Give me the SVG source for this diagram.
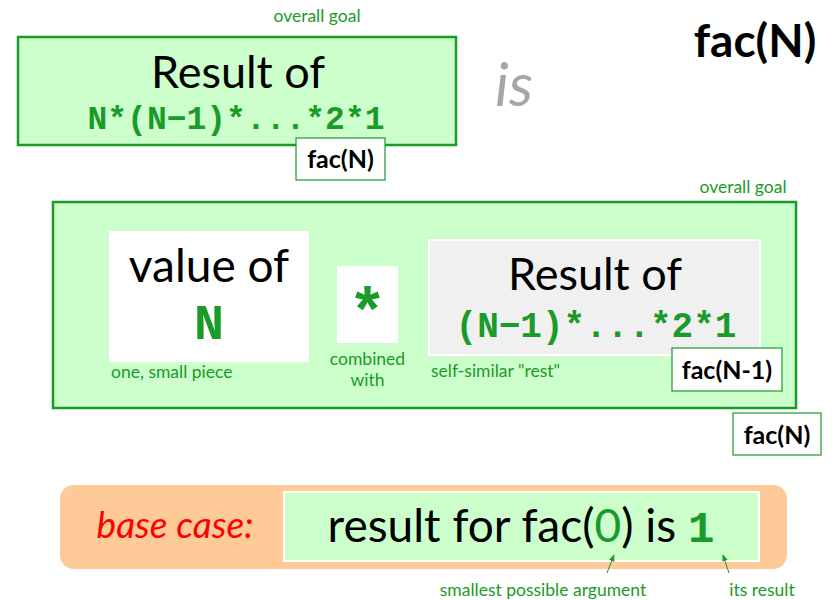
<svg xmlns="http://www.w3.org/2000/svg" width="834" height="600" viewBox="0 0 834 600">
  <style>
    .sans { font-family: Lato, "Open Sans", "Liberation Sans", sans-serif; }
    .mono { font-family: "Liberation Mono", "Courier New", monospace; font-weight: bold; fill: #1a9a28; }
    .note { font-family: Lato, "Open Sans", "Liberation Sans", sans-serif; font-size: 17.5px; fill: #1a9a28; }
    .goal { fill: #ccffcc; stroke: #1a9a28; stroke-width: 2.5; }
    .tag { fill: #ffffff; stroke: #1a9a28; stroke-width: 1.2; }
    .tagtext { font-family: Lato, "Open Sans", "Liberation Sans", sans-serif; font-weight: bold; font-size: 25px; fill: #000; }
    .big { font-family: Lato, "Open Sans", "Liberation Sans", sans-serif; fill: #000; }
  </style>
  <defs>
    <marker id="arrow" viewBox="0 0 10 10" refX="9" refY="5" markerWidth="7" markerHeight="7" orient="auto-start-reverse">
      <path d="M0,1 L10,5 L0,9 z" fill="#1a9a28"/>
    </marker>
  </defs>

  <rect width="834" height="600" fill="#ffffff"/>

  <!-- title -->
  <g id="title">
    <text class="big" x="755" y="57" font-size="46" font-weight="bold" text-anchor="middle">fac(N)</text>
  </g>

  <!-- whole result as one goal -->
  <g id="goal-top">
    <text class="note" x="317" y="22" text-anchor="middle">overall goal</text>
    <rect class="goal" x="18" y="37" width="438" height="108"/>
    <text class="big" x="238" y="88" font-size="45" text-anchor="middle">Result of</text>
    <text class="mono" x="236" y="129" font-size="33" text-anchor="middle">N*(N−1)*...*2*1</text>
  </g>
  <g id="tag-top">
    <rect class="tag" x="296" y="138" width="89" height="42"/>
    <text class="tagtext" x="340.5" y="168" text-anchor="middle">fac(N)</text>
  </g>

  <g id="is-word">
    <text x="514" y="106" font-family="Lato, 'Open Sans', 'Liberation Sans', sans-serif" font-style="italic" font-size="60" fill="#a6a6a6" text-anchor="middle">is</text>
  </g>

  <!-- decomposed goal -->
  <g id="goal-split">
    <text class="note" x="743" y="193" text-anchor="middle">overall goal</text>
    <rect class="goal" x="53" y="202" width="743" height="206"/>
  </g>

  <g id="piece">
    <rect x="109" y="231" width="200" height="131" fill="#ffffff"/>
    <text class="big" x="209" y="282" font-size="46" text-anchor="middle">value of</text>
    <text class="mono" x="209" y="339" font-size="50" text-anchor="middle">N</text>
    <text class="note" x="111" y="378">one, small piece</text>
  </g>

  <g id="times">
    <rect x="337" y="266" width="61" height="77" fill="#ffffff"/>
    <text class="mono" x="367.5" y="333" font-size="64" text-anchor="middle">*</text>
    <text class="note" x="367.5" y="365" text-anchor="middle">combined</text>
    <text class="note" x="367.5" y="386" text-anchor="middle">with</text>
  </g>

  <g id="rest">
    <rect x="429" y="240" width="331" height="115" fill="#f0f0f0" stroke="#ffffff" stroke-width="2"/>
    <text class="big" x="595" y="290" font-size="45" text-anchor="middle">Result of</text>
    <text class="mono" x="596" y="337" font-size="36" text-anchor="middle">(N−1)*...*2*1</text>
    <text class="note" x="431" y="377">self-similar "rest"</text>
  </g>
  <g id="tag-rest">
    <rect class="tag" x="672" y="348" width="110" height="43"/>
    <text class="tagtext" x="727" y="379" text-anchor="middle">fac(N-1)</text>
  </g>
  <g id="tag-split">
    <rect class="tag" x="733" y="413" width="88" height="42"/>
    <text class="tagtext" x="777" y="444" text-anchor="middle">fac(N)</text>
  </g>

  <!-- base case -->
  <g id="base-case">
    <rect x="60" y="485" width="727" height="84" rx="14" ry="14" fill="#fdca98"/>
    <text x="175" y="538" font-family="Lato, 'Open Sans', 'Liberation Sans', sans-serif" font-style="italic" font-size="37" fill="#ff0000" text-anchor="middle">base case:</text>
    <rect x="284" y="492" width="475" height="69" fill="#ccffcc" stroke="#ffffff" stroke-width="2"/>
    <text class="big" x="521" y="542" font-size="46" text-anchor="middle">result for fac(<tspan fill="#1a9a28">0</tspan>) is <tspan class="mono" font-size="44">1</tspan></text>
    <text class="note" x="543" y="596" text-anchor="middle">smallest possible argument</text>
    <text class="note" x="762" y="596" text-anchor="middle">its result</text>
  </g>

  <!-- pointers to the argument and the result -->
  <g id="connectors">
    <line x1="607" y1="573" x2="614" y2="555" stroke="#1a9a28" stroke-width="1" marker-end="url(#arrow)"/>
    <line x1="729" y1="573" x2="723" y2="555" stroke="#1a9a28" stroke-width="1" marker-end="url(#arrow)"/>
  </g>
</svg>
